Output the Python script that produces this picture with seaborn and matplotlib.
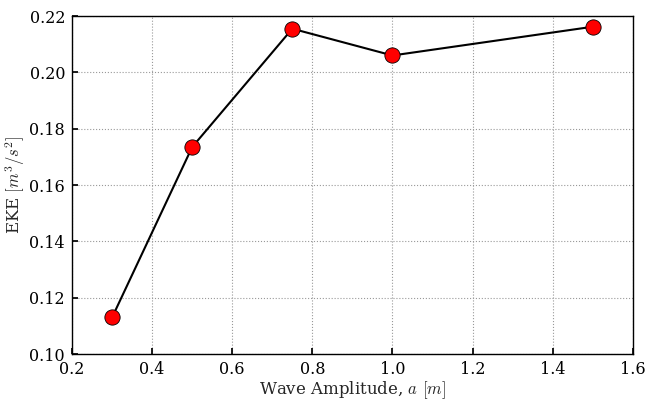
import matplotlib
matplotlib.use("Agg")
import matplotlib.pyplot as plt
import seaborn as sns
import pandas as pd

amplitude = [0.3, 0.5, 0.75, 1.0, 1.5]
eke = [0.113, 0.1735, 0.2155, 0.206, 0.2162]

sns.set_theme(style="ticks")
plt.rcParams['font.family'] = ['DejaVu Serif']
plt.rcParams['mathtext.fontset'] = 'cm'

df = pd.DataFrame({"a": amplitude, "eke": eke})

fig = plt.figure(figsize=(6.49, 4.01), dpi=100)
ax = fig.add_axes([0.111, 0.117, 0.864, 0.843])
sns.lineplot(data=df, x="a", y="eke", ax=ax, color="black", linewidth=1.5,
             marker="o", markersize=11, markerfacecolor="red",
             markeredgecolor="black", markeredgewidth=0.6)
ax.set_xlim(0.2, 1.6)
ax.set_ylim(0.10, 0.22)
ax.set_xticks([0.2, 0.4, 0.6, 0.8, 1.0, 1.2, 1.4, 1.6])
ax.set_yticks([0.10, 0.12, 0.14, 0.16, 0.18, 0.20, 0.22])
ax.xaxis.set_major_formatter(matplotlib.ticker.FormatStrFormatter('%.1f'))
ax.yaxis.set_major_formatter(matplotlib.ticker.FormatStrFormatter('%.2f'))
ax.grid(True, linestyle=':', color='#999999', linewidth=0.8)
ax.tick_params(axis='both', direction='in', length=4, labelsize=11.5, colors='black')
ax.tick_params(axis='x', pad=5)
ax.tick_params(axis='y', pad=5)
for s in ax.spines.values():
    s.set_color('black')
    s.set_linewidth(1.0)
ax.set_xlabel(r"Wave Amplitude, $a$ $[m]$", fontsize=12, labelpad=1)
ax.set_ylabel(r"EKE $[m^3/s^2]$", fontsize=12)
ax.yaxis.set_label_coords(-0.080, 0.5)
fig.savefig("out.png", dpi=100)
